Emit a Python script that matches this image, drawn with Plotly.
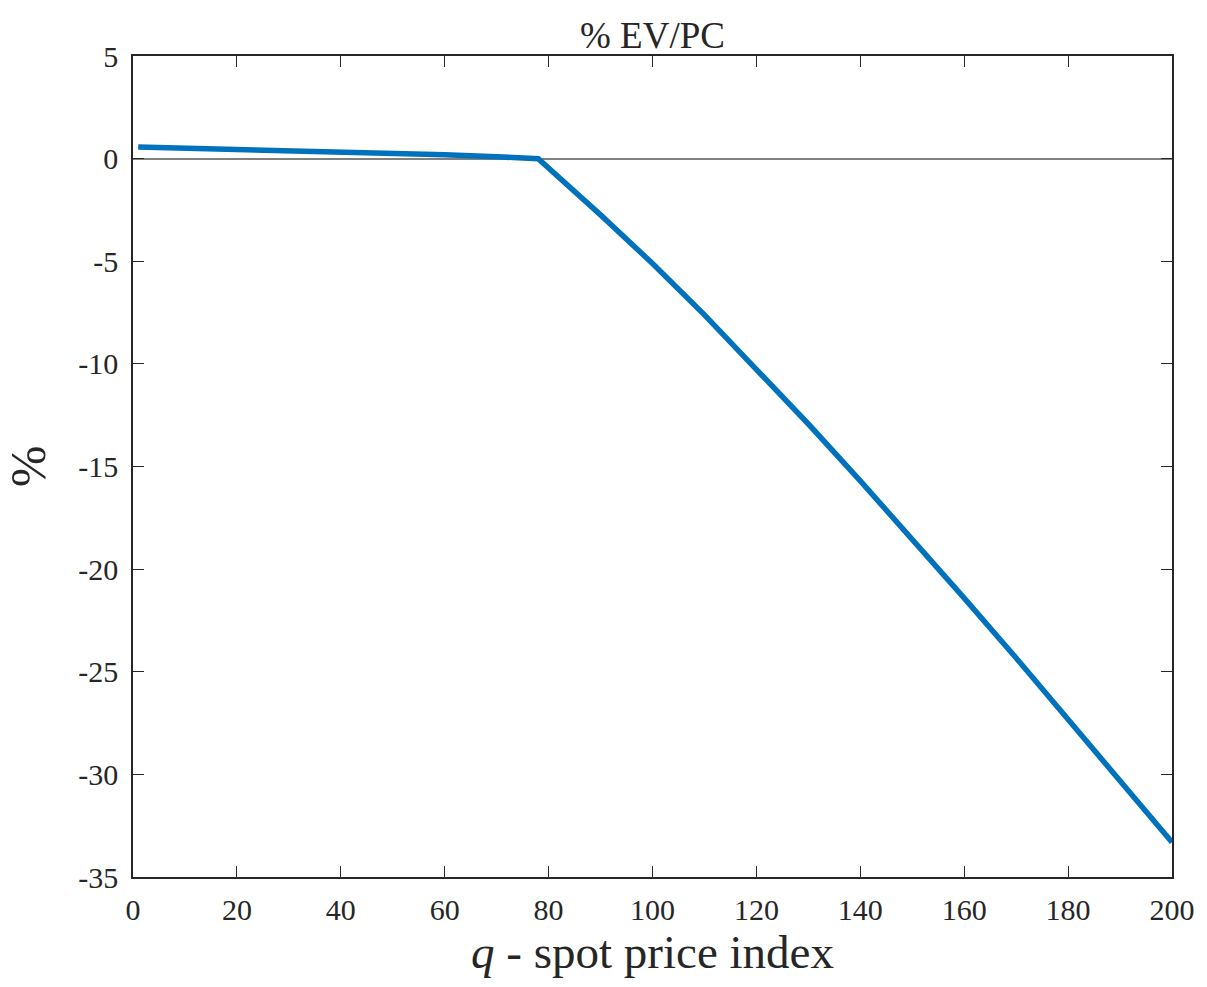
import plotly.graph_objects as go

q_values = [1, 10, 20, 30, 40, 50, 60, 70, 78, 90, 100, 110, 120, 130, 140, 150, 160, 170, 180, 190, 200]
ev_pc = [0.57, 0.52, 0.46, 0.39, 0.33, 0.26, 0.19, 0.09, 0.0, -2.74, -5.11, -7.61, -10.23, -12.93, -15.70, -18.53, -21.41, -24.33, -27.29, -30.29, -33.31]

x_ticks = [0, 20, 40, 60, 80, 100, 120, 140, 160, 180, 200]
y_ticks = [5, 0, -5, -10, -15, -20, -25, -30, -35]
y_tick_text = [str(v) for v in y_ticks]

FONT = "Liberation Serif, Times New Roman, serif"
TXT = "#262626"

fig = go.Figure()
fig.add_trace(go.Scatter(x=q_values, y=ev_pc, mode="lines",
                         line=dict(color="#0072BD", width=5.5), showlegend=False))

fig.update_layout(
    width=1207, height=987,
    paper_bgcolor="white", plot_bgcolor="white",
    margin=dict(l=133, r=32, t=56, b=110),
    font=dict(family=FONT, color=TXT, size=30),
    title=dict(text="% EV/PC", x=0.5, xanchor="center", xref="paper",
               y=1, yref="paper", yanchor="bottom", pad=dict(b=8),
               font=dict(size=37, family=FONT, color=TXT)),
)
fig.update_xaxes(range=[0, 200], tickvals=x_ticks, ticktext=[str(v) for v in x_ticks],
                 ticks="inside", ticklen=11, tickwidth=1.3, tickcolor=TXT,
                 showline=True, linecolor=TXT, linewidth=1.5, mirror="allticks",
                 showgrid=False, zeroline=False, ticklabelstandoff=5,
                 tickfont=dict(size=30, family=FONT, color=TXT),
                 title=dict(text="<i>q</i> - spot price index", standoff=10,
                            font=dict(size=47, family=FONT, color=TXT)))
fig.update_yaxes(range=[-35, 5], tickvals=y_ticks, ticktext=y_tick_text,
                 ticks="inside", ticklen=11, tickwidth=1.3, tickcolor=TXT,
                 showline=True, linecolor=TXT, linewidth=1.5, mirror="allticks",
                 showgrid=False, zeroline=True, zerolinecolor="#808080", zerolinewidth=1.5,
                 ticklabelstandoff=7,
                 tickfont=dict(size=30, family=FONT, color=TXT),
                 title=dict(text="%", standoff=22,
                            font=dict(size=50, family=FONT, color=TXT)))

fig.write_html("out.html")
